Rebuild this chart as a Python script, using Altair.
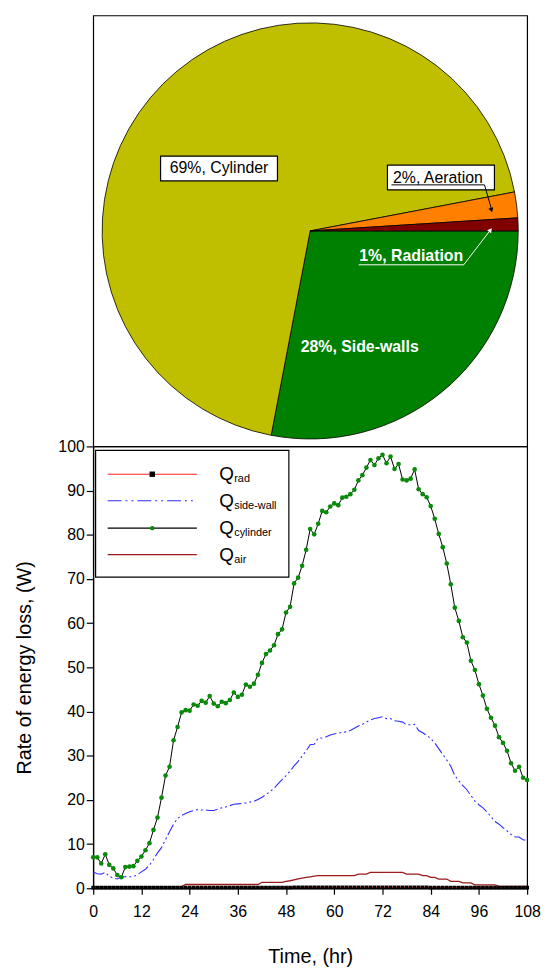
import math
import altair as alt
import pandas as pd

FONT = "Liberation Sans"

# ---------------- pie data ----------------
PIE_CATEGORIES = ["Side-walls", "Cylinder", "Aeration", "Radiation"]
PIE_PERCENT = [28, 69, 2, 1]
PIE_LABELS = ["28%, Side-walls", "69%, Cylinder", "2%, Aeration", "1%, Radiation"]
PIE_COLORS = ["#008000", "#BFBF00", "#FF8000", "#800000"]

# ---------------- time series data ----------------
TIME_HR = [0, 1, 2, 3, 4, 5, 6, 7, 8, 9, 10, 11, 12, 13, 14, 15, 16, 17, 18, 19,
           20, 21, 22, 23, 24, 25, 26, 27, 28, 29, 30, 31, 32, 33, 34, 35, 36, 37, 38, 39,
           40, 41, 42, 43, 44, 45, 46, 47, 48, 49, 50, 51, 52, 53, 54, 55, 56, 57, 58, 59,
           60, 61, 62, 63, 64, 65, 66, 67, 68, 69, 70, 71, 72, 73, 74, 75, 76, 77, 78, 79,
           80, 81, 82, 83, 84, 85, 86, 87, 88, 89, 90, 91, 92, 93, 94, 95, 96, 97, 98, 99,
           100, 101, 102, 103, 104, 105, 106, 107, 108]

Q_CYL = [7.0, 7.0, 5.6, 7.7, 5.3, 4.5, 3.0, 2.5, 4.8, 4.9,
         5.0, 6.2, 7.2, 8.6, 10.2, 13.2, 16.0, 20.5, 25.5, 27.5,
         33.5, 36.5, 39.8, 40.3, 40.2, 41.6, 41.3, 42.4, 42.0, 43.5,
         41.8, 41.2, 42.2, 41.9, 42.6, 44.3, 43.3, 43.8, 46.1, 45.6,
         46.3, 48.3, 51.0, 53.0, 53.8, 55.0, 57.5, 58.6, 62.4, 63.7,
         69.0, 70.3, 73.0, 76.6, 81.3, 80.1, 82.5, 85.4, 85.1, 86.4,
         87.1, 86.7, 88.4, 88.6, 89.2, 90.2, 92.3, 93.5, 95.2, 96.9,
         95.8, 97.3, 98.1, 96.2, 97.7, 94.9, 96.0, 92.5, 92.3, 92.7,
         94.8, 90.3, 89.2, 88.5, 86.5, 83.6, 80.2, 77.2, 73.5, 68.8,
         63.5, 60.5, 56.8, 55.6, 51.5, 49.4, 46.2, 43.6, 40.6, 38.6,
         36.8, 34.2, 32.9, 31.1, 28.3, 26.6, 27.5, 25.0, 24.5]

Q_SIDE = [3.7, 3.3, 3.2, 3.6, 2.7, 2.3, 2.1, 2.6, 2.6, 2.6,
          2.6, 3.1, 3.7, 4.3, 5.2, 6.5, 8.0, 9.2, 11.0, 12.8,
          14.5, 15.8, 16.5, 16.9, 17.3, 17.6, 17.8, 17.7, 17.7, 17.6,
          17.6, 17.9, 18.2, 18.4, 18.7, 19.0, 19.1, 19.2, 19.3, 19.5,
          19.7, 20.1, 20.6, 21.2, 21.9, 22.6, 23.6, 24.6, 25.5, 26.5,
          27.7, 28.7, 29.9, 31.1, 32.5, 32.6, 34.0, 34.0, 34.3, 34.7,
          34.9, 35.1, 35.3, 35.4, 35.7, 36.2, 36.7, 37.1, 37.6, 38.1,
          38.4, 38.6, 38.8, 38.4, 38.4, 37.9, 37.8, 37.6, 37.0, 37.0,
          37.1, 35.7, 35.2, 34.6, 33.9, 32.9, 31.6, 30.3, 29.0, 27.6,
          25.5, 24.3, 23.2, 22.3, 21.0, 19.7, 18.9, 18.2, 17.3, 16.2,
          15.1, 14.5, 13.7, 13.0, 12.2, 11.6, 11.6, 11.0, 10.8]

Q_AIR = [0.37, 0.37, 0.37, 0.37, 0.37, 0.37, 0.37, 0.37, 0.37, 0.37,
         0.37, 0.37, 0.37, 0.37, 0.37, 0.37, 0.37, 0.37, 0.37, 0.37,
         0.37, 0.37, 0.37, 0.85, 0.85, 0.85, 0.85, 0.85, 0.85, 0.85,
         0.85, 0.85, 0.85, 0.85, 0.85, 0.85, 0.85, 0.85, 0.85, 0.85,
         0.85, 0.85, 1.35, 1.35, 1.35, 1.35, 1.35, 1.35, 1.55, 1.7,
         1.9, 2.1, 2.3, 2.46, 2.6, 2.75, 2.84, 2.84, 2.84, 2.84,
         2.84, 2.84, 2.84, 2.84, 2.84, 2.84, 3.2, 3.2, 3.2, 3.6,
         3.6, 3.6, 3.6, 3.6, 3.6, 3.6, 3.6, 3.6, 3.2, 3.2,
         3.2, 3.2, 2.84, 2.84, 2.46, 2.46, 2.09, 2.09, 2.09, 1.57,
         1.57, 1.57, 1.2, 1.2, 1.2, 0.75, 0.75, 0.75, 0.75, 0.75,
         0.75, 0.45, 0.45, 0.45, 0.45, 0.45, 0.45, 0.45, 0.45]

Q_RAD = [0.15, 0.15, 0.15, 0.15, 0.15, 0.15, 0.15, 0.15, 0.15, 0.15,
         0.15, 0.15, 0.15, 0.15, 0.15, 0.15, 0.15, 0.15, 0.15, 0.15,
         0.15, 0.15, 0.15, 0.15, 0.15, 0.15, 0.15, 0.15, 0.15, 0.15,
         0.15, 0.15, 0.15, 0.15, 0.15, 0.15, 0.15, 0.15, 0.15, 0.15,
         0.15, 0.15, 0.15, 0.15, 0.15, 0.15, 0.15, 0.15, 0.15, 0.15,
         0.2, 0.2, 0.2, 0.2, 0.2, 0.2, 0.2, 0.2, 0.2, 0.2,
         0.2, 0.2, 0.2, 0.2, 0.2, 0.2, 0.2, 0.2, 0.2, 0.2,
         0.2, 0.2, 0.2, 0.2, 0.2, 0.2, 0.2, 0.2, 0.2, 0.2,
         0.2, 0.2, 0.2, 0.2, 0.15, 0.15, 0.15, 0.15, 0.15, 0.15,
         0.15, 0.15, 0.15, 0.15, 0.15, 0.15, 0.15, 0.15, 0.15, 0.15,
         0.15, 0.15, 0.15, 0.15, 0.15, 0.15, 0.15, 0.15, 0.15]

X_TICKS = [0, 12, 24, 36, 48, 60, 72, 84, 96, 108]
Y_TICKS = [0, 10, 20, 30, 40, 50, 60, 70, 80, 90, 100]

SERIES_NAMES = ["rad", "side-wall", "cylinder", "air"]

# ---------------- style / layout ----------------
PIE_W, PIE_H, PIE_R = 438, 435, 210
PLOT_W, PLOT_H = 438, 446

# label placements in the pie panel (pixels from pie centre, y up)
LABEL_POS = {
    "Cylinder": dict(x=-92, y=63, box=(-151, -33, 50.5, 75.5)),
    "Aeration": dict(x=129, y=53.5, box=(78, 186, 41.5, 66.5)),
    "Radiation": dict(x=102, y=-25.5),
    "Side-walls": dict(x=50, y=-117.5),
}

# ---------------- top panel: pie ----------------
pie_df = pd.DataFrame({"cat": PIE_CATEGORIES, "pct": PIE_PERCENT,
                       "label": PIE_LABELS, "ord": list(range(len(PIE_CATEGORIES)))})

xs = alt.Scale(domain=[-PIE_W / 2, PIE_W / 2], nice=False, zero=False)
ys = alt.Scale(domain=[-PIE_H / 2, PIE_H / 2], nice=False, zero=False)

arc = alt.Chart(pie_df).mark_arc(radius=PIE_R, stroke="black", strokeWidth=0.8).encode(
    theta=alt.Theta("pct:Q", stack=True,
                    scale=alt.Scale(range=[math.pi / 2, math.pi / 2 + 2 * math.pi])),
    color=alt.Color("cat:N", scale=alt.Scale(domain=PIE_CATEGORIES, range=PIE_COLORS), legend=None),
    order=alt.Order("ord:Q"),
)

lab = {c: l for c, l in zip(PIE_CATEGORIES, PIE_LABELS)}

box_df = pd.DataFrame([
    {"x": LABEL_POS[c]["box"][0], "x2": LABEL_POS[c]["box"][1],
     "y": LABEL_POS[c]["box"][2], "y2": LABEL_POS[c]["box"][3]}
    for c in ["Cylinder", "Aeration"]
])
boxes = alt.Chart(box_df).mark_rect(fill="white", stroke="black", strokeWidth=1.2).encode(
    x=alt.X("x:Q", scale=xs, axis=None), x2="x2:Q",
    y=alt.Y("y:Q", scale=ys, axis=None), y2="y2:Q",
)

black_txt_df = pd.DataFrame([
    {"x": LABEL_POS[c]["x"], "y": LABEL_POS[c]["y"], "t": lab[c]} for c in ["Cylinder", "Aeration"]
])
white_txt_df = pd.DataFrame([
    {"x": LABEL_POS[c]["x"], "y": LABEL_POS[c]["y"], "t": lab[c]} for c in ["Radiation", "Side-walls"]
])
black_txt = alt.Chart(black_txt_df).mark_text(
    font=FONT, fontSize=16, color="black", align="center", baseline="middle").encode(
    x=alt.X("x:Q", scale=xs, axis=None), y=alt.Y("y:Q", scale=ys, axis=None), text="t:N")
white_txt = alt.Chart(white_txt_df).mark_text(
    font=FONT, fontSize=16, fontWeight="bold", color="white", align="center", baseline="middle").encode(
    x=alt.X("x:Q", scale=xs, axis=None), y=alt.Y("y:Q", scale=ys, axis=None), text="t:N")

# underlines and leader lines
black_lines_df = pd.DataFrame([
    {"x": 82, "y": 46.5, "x2": 176, "y2": 46.5},
    {"x": 176, "y": 46.5, "x2": 183, "y2": 22},
])
white_lines_df = pd.DataFrame([
    {"x": 49, "y": -34.2, "x2": 155, "y2": -34.2},
    {"x": 155, "y": -34.2, "x2": 182, "y2": 1},
])
black_lines = alt.Chart(black_lines_df).mark_rule(color="black", strokeWidth=1).encode(
    x=alt.X("x:Q", scale=xs, axis=None), y=alt.Y("y:Q", scale=ys, axis=None), x2="x2:Q", y2="y2:Q")
white_lines = alt.Chart(white_lines_df).mark_rule(color="white", strokeWidth=1).encode(
    x=alt.X("x:Q", scale=xs, axis=None), y=alt.Y("y:Q", scale=ys, axis=None), x2="x2:Q", y2="y2:Q")
arrow_b = alt.Chart(pd.DataFrame({"x": [183], "y": [21]})).mark_point(
    shape="triangle-down", filled=True, color="black", size=26, angle=342, opacity=1).encode(
    x=alt.X("x:Q", scale=xs, axis=None), y=alt.Y("y:Q", scale=ys, axis=None))
arrow_w = alt.Chart(pd.DataFrame({"x": [182], "y": [1]})).mark_point(
    shape="triangle-up", filled=True, color="white", size=26, angle=37, opacity=1).encode(
    x=alt.X("x:Q", scale=xs, axis=None), y=alt.Y("y:Q", scale=ys, axis=None))

top = alt.layer(arc, boxes, black_txt, white_txt, black_lines, white_lines, arrow_b, arrow_w).properties(
    width=PIE_W, height=PIE_H)

# ---------------- bottom panel: lines ----------------
df = pd.DataFrame({"t": TIME_HR, "rad": Q_RAD, "side": Q_SIDE, "cyl": Q_CYL, "air": Q_AIR})

xsc = alt.Scale(domain=[0, 108], nice=False, zero=False)
ysc = alt.Scale(domain=[0, 100], nice=False)
xax = alt.Axis(values=X_TICKS, title="Time, (hr)", grid=False, tickSize=6, labelPadding=10,
               titlePadding=27, labelFlush=False,
               labelFont=FONT, labelFontSize=16, labelColor="black",
               titleFont=FONT, titleFontSize=20, titleFontWeight="normal", titleColor="black",
               domainColor="black", tickColor="black", domainWidth=1.2, tickWidth=1.2)
yax = alt.Axis(values=Y_TICKS, title="Rate of energy loss, (W)", grid=False, tickSize=7,
               labelPadding=2, titlePadding=24,
               labelFont=FONT, labelFontSize=16, labelColor="black",
               titleFont=FONT, titleFontSize=20, titleFontWeight="normal", titleColor="black",
               domainColor="black", tickColor="black", domainWidth=1.2, tickWidth=1.2)


def xe(f="t:Q"):
    return alt.X(f, scale=xsc, axis=xax)


def ye(f):
    return alt.Y(f, scale=ysc, axis=yax)


base = alt.Chart(df)
air_line = base.mark_line(color="#9B1B1B", strokeWidth=1.3).encode(x=xe(), y=ye("air:Q"))
side_line = base.mark_line(color="#2E2EFF", strokeWidth=1.1, strokeDash=[12, 3, 2, 3, 2, 3]).encode(
    x=xe(), y=ye("side:Q"))
cyl_line = base.mark_line(color="black", strokeWidth=1).encode(x=xe(), y=ye("cyl:Q"))
cyl_pts = base.mark_point(shape="circle", filled=True, color="#0A8A0A", size=22, opacity=1).encode(
    x=xe(), y=ye("cyl:Q"))
rad_line = base.mark_line(color="#FF2020", strokeWidth=1).encode(x=xe(), y=ye("rad:Q"))
rad_pts = base.mark_point(shape="square", filled=True, color="black", size=14, opacity=1).encode(
    x=xe(), y=ye("rad:Q"))

# ---------------- custom legend (data coordinates) ----------------
LEG_BOX = dict(x=0.6, x2=48.7, y=70.4, y2=99.1)
LEG_ROWS = [93.7, 87.7, 81.5, 75.5]
LEG_LINE = (3.6, 25.8)
LEG_MARK_X = 14.7
LEG_TEXT_X = 31.4

leg_box = alt.Chart(pd.DataFrame([LEG_BOX])).mark_rect(
    fill="white", stroke="black", strokeWidth=1.2).encode(
    x=xe("x:Q"), x2="x2:Q", y=ye("y:Q"), y2="y2:Q")


def leg_rule(row, **kw):
    d = pd.DataFrame({"x": [LEG_LINE[0]], "x2": [LEG_LINE[1]], "y": [LEG_ROWS[row]]})
    return alt.Chart(d).mark_rule(**kw).encode(x=xe("x:Q"), x2="x2:Q", y=ye("y:Q"))


def leg_mark(row, **kw):
    d = pd.DataFrame({"x": [LEG_MARK_X], "y": [LEG_ROWS[row]]})
    return alt.Chart(d).mark_point(filled=True, opacity=1, **kw).encode(x=xe("x:Q"), y=ye("y:Q"))


leg_layers = [
    leg_rule(0, color="#FF2020", strokeWidth=1.2),
    leg_mark(0, shape="square", color="black", size=30),
    leg_rule(1, color="#2E2EFF", strokeWidth=1.2, strokeDash=[14, 4, 2, 4, 2, 4]),
    leg_rule(2, color="black", strokeWidth=1.2),
    leg_mark(2, shape="circle", color="#0A8A0A", size=20),
    leg_rule(3, color="#9B1B1B", strokeWidth=1.4),
]
q_df = pd.DataFrame({"x": [LEG_TEXT_X] * 4, "y": LEG_ROWS, "q": ["Q"] * 4, "sub": SERIES_NAMES})
q_txt = alt.Chart(q_df).mark_text(font=FONT, fontSize=19, align="left", baseline="middle",
                                  color="black").encode(x=xe("x:Q"), y=ye("y:Q"), text="q:N")
sub_txt = alt.Chart(q_df).mark_text(font=FONT, fontSize=11, align="left", baseline="middle",
                                    color="black", dx=15, dy=5).encode(
    x=xe("x:Q"), y=ye("y:Q"), text="sub:N")

bottom = alt.layer(
    air_line, side_line, cyl_line, cyl_pts, rad_line, rad_pts,
    leg_box, *leg_layers, q_txt, sub_txt
).properties(width=PLOT_W, height=PLOT_H)

chart = alt.vconcat(top, bottom, spacing=0, bounds="flush").properties(
    padding={"left": 5, "top": 2, "right": 0, "bottom": 0},
    background="white",
).configure_view(
    stroke="black", strokeWidth=1.2
)

chart.save("out.html", embed_options={"renderer": "svg", "actions": False})
